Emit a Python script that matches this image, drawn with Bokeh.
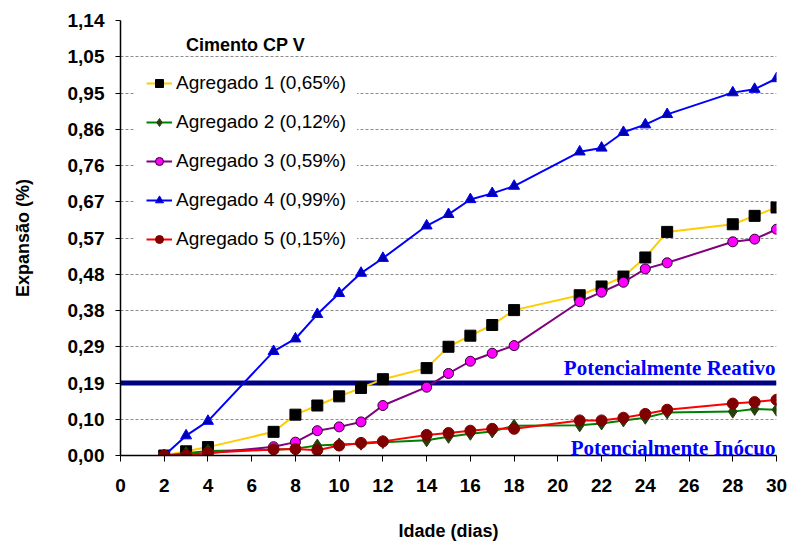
from bokeh.plotting import figure
from bokeh.models import Range1d, FixedTicker, Span, Label, Legend, LegendItem
from bokeh.embed import file_html
from bokeh.resources import INLINE

# ---------------- data ----------------
days = [2, 3, 4, 7, 8, 9, 10, 11, 12, 14, 15, 16, 17, 18, 21, 22, 23, 24, 25, 28, 29, 30]

agregado1 = [0.000, 0.011, 0.022, 0.062, 0.107, 0.131, 0.155, 0.177, 0.200, 0.229, 0.285,
             0.314, 0.342, 0.381, 0.420, 0.443, 0.469, 0.519, 0.586, 0.606, 0.628, 0.650]
agregado2 = [0.000, 0.006, 0.012, 0.015, 0.018, 0.026, 0.029, 0.031, 0.035, 0.040, 0.049,
             0.057, 0.063, 0.078, 0.079, 0.084, 0.092, 0.099, 0.113, 0.115, 0.122, 0.120]
agregado3 = [0.000, 0.002, 0.006, 0.023, 0.035, 0.065, 0.075, 0.088, 0.131, 0.179, 0.215,
             0.247, 0.268, 0.288, 0.403, 0.428, 0.454, 0.489, 0.505, 0.560, 0.567, 0.593]
agregado4 = [0.000, 0.052, 0.090, 0.273, 0.306, 0.370, 0.425, 0.478, 0.517, 0.602, 0.632,
             0.671, 0.687, 0.706, 0.796, 0.806, 0.847, 0.867, 0.894, 0.951, 0.960, 0.988]
agregado5 = [0.000, 0.000, 0.007, 0.016, 0.017, 0.014, 0.026, 0.033, 0.037, 0.054, 0.059,
             0.065, 0.070, 0.070, 0.092, 0.092, 0.099, 0.109, 0.120, 0.136, 0.140, 0.146]

series_values = [agregado1, agregado2, agregado3, agregado4, agregado5]
series_names = ["Agregado 1 (0,65%)", "Agregado 2 (0,12%)", "Agregado 3 (0,59%)",
                "Agregado 4 (0,99%)", "Agregado 5 (0,15%)"]
line_colors = ["#FFCC00", "#008000", "#800080", "#0000FF", "#FF0000"]
marker_fill = ["#000000", "#25400C", "#FF00FF", "#0000B0", "#800000"]
marker_line = ["#000000", "#25400C", "#2A002A", "#0000FF", "#800000"]
markers = ["square", "diamond", "circle", "triangle", "circle"]
marker_sizes = [11, 13, 10, 11, 11]

x_ticks = [0, 2, 4, 6, 8, 10, 12, 14, 16, 18, 20, 22, 24, 26, 28, 30]
y_ticks = [0, 0.095, 0.19, 0.285, 0.38, 0.475, 0.57, 0.665, 0.76, 0.855, 0.95, 1.045, 1.14]
y_tick_labels = ["0,00", "0,10", "0,19", "0,29", "0,38", "0,48", "0,57", "0,67",
                 "0,76", "0,86", "0,95", "1,05", "1,14"]

threshold = 0.19
legend_title = "Cimento CP V"
x_title = "Idade (dias)"
y_title = "Expansão (%)"
zone_labels = ["Potencialmente Reativo", "Potencialmente Inócuo"]

SANS = "Liberation Sans"
SERIF = "Liberation Serif"

# ---------------- figure ----------------
p = figure(width=790, height=543, output_backend="svg", toolbar_location=None,
           x_range=Range1d(x_ticks[0], x_ticks[-1]), y_range=Range1d(y_ticks[0], y_ticks[-1]),
           min_border_left=120, min_border_right=14, min_border_top=20, min_border_bottom=87)
p.outline_line_color = None
p.background_fill_color = "white"
p.border_fill_color = "white"

p.xgrid.visible = False
p.ygrid.ticker = FixedTicker(ticks=y_ticks)
p.ygrid.grid_line_color = "#8C8C8C"
p.ygrid.grid_line_dash = "3 2"
p.ygrid.grid_line_width = 1

# x axis
xa = p.xaxis[0]
xa.ticker = FixedTicker(ticks=x_ticks)
xa.axis_line_color = "black"
xa.axis_line_width = 1.5
xa.major_tick_out = 6
xa.major_tick_in = 0
xa.minor_tick_out = 0
xa.minor_tick_in = 0
xa.major_label_standoff = 17
xa.major_label_text_font = SANS
xa.major_label_text_font_size = "19px"
xa.major_label_text_font_style = "bold"
xa.major_label_text_color = "black"
xa.axis_label = x_title
xa.axis_label_text_font = SANS
xa.axis_label_text_font_size = "18px"
xa.axis_label_text_font_style = "bold"
xa.axis_label_text_color = "black"
xa.axis_label_standoff = 26

# y axis
ya = p.yaxis[0]
ya.ticker = FixedTicker(ticks=y_ticks)
ya.major_label_overrides = {t: s for t, s in zip(y_ticks, y_tick_labels)}
ya.axis_line_color = "black"
ya.axis_line_width = 1.5
ya.major_tick_out = 5
ya.major_tick_in = 0
ya.minor_tick_out = 0
ya.minor_tick_in = 0
ya.major_label_standoff = 11
ya.major_label_text_font = SANS
ya.major_label_text_font_size = "19px"
ya.major_label_text_font_style = "bold"
ya.major_label_text_color = "black"
ya.axis_label = y_title
ya.axis_label_text_font = SANS
ya.axis_label_text_font_size = "18px"
ya.axis_label_text_font_style = "bold"
ya.axis_label_text_color = "black"
ya.axis_label_standoff = 32

# threshold line
span = Span(location=threshold, dimension="width", line_color="#000080", line_width=5,
            level="underlay")
p.add_layout(span)

# series
items = []
for vals, name, lc, mf, ml, mk, ms in zip(series_values, series_names, line_colors,
                                          marker_fill, marker_line, markers, marker_sizes):
    lr = p.line(days, vals, line_color=lc, line_width=2)
    sr = p.scatter(days, vals, marker=mk, size=ms, fill_color=mf, line_color=ml, line_width=1)
    items.append(LegendItem(label=name, renderers=[lr, sr]))

legend = Legend(items=items, location=(15, 194))
legend.background_fill_color = "white"
legend.background_fill_alpha = 1.0
legend.border_line_color = "white"
legend.border_line_width = 1
legend.padding = 10
legend.spacing = 17
legend.label_height = 20
legend.glyph_height = 20
legend.glyph_width = 26
legend.label_standoff = 4
legend.margin = 0
legend.label_text_font = SANS
legend.label_text_font_size = "19px"
legend.label_text_color = "black"
p.add_layout(legend)

# legend title
p.add_layout(Label(x=3.0, y=1.075, text=legend_title, text_font=SANS, text_font_size="18px",
                   text_font_style="bold", text_color="black", text_baseline="middle",
                   text_align="left"))

# zone labels
p.add_layout(Label(x=x_ticks[-1], y=threshold, x_offset=-1, y_offset=15, text=zone_labels[0],
                   text_font=SERIF, text_font_size="21px", text_font_style="bold",
                   text_color="#0000FF", text_align="right", text_baseline="alphabetic"))
p.add_layout(Label(x=x_ticks[-1], y=y_ticks[0], x_offset=-1, y_offset=8, text=zone_labels[1],
                   text_font=SERIF, text_font_size="21px", text_font_style="bold",
                   text_color="#0000FF", text_align="right", text_baseline="alphabetic"))

open("out.html", "w").write(file_html(p, INLINE))
